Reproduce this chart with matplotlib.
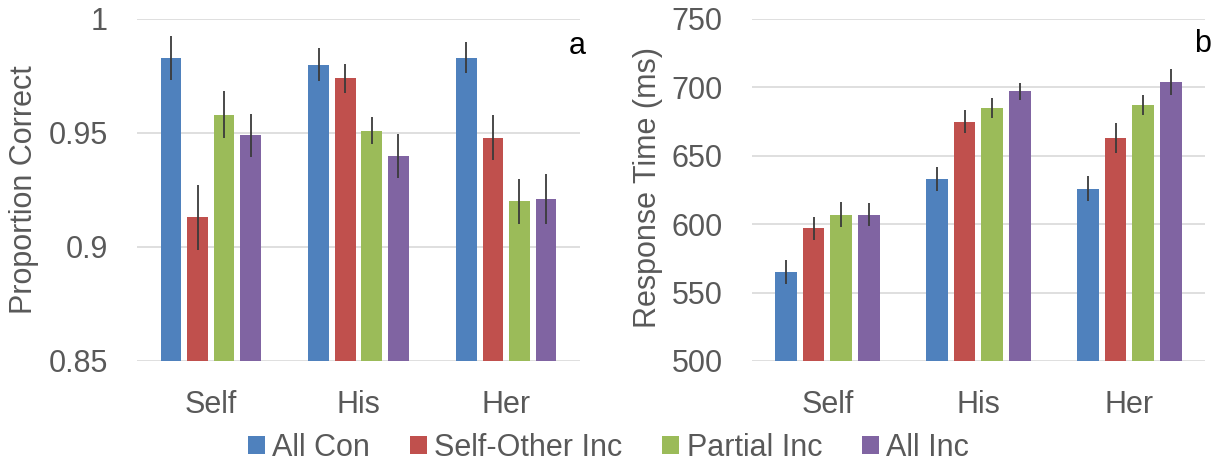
import numpy as np
import matplotlib
matplotlib.use("Agg")
from matplotlib import pyplot as plt
from matplotlib.patches import Patch

plt.rcParams['font.family'] = ['Liberation Sans', 'DejaVu Sans']

groups = ["Self", "His", "Her"]
conditions = ["All Con", "Self-Other Inc", "Partial Inc", "All Inc"]
colors = ["#4F81BD", "#C0504D", "#9BBB59", "#8064A2"]

# panel a: proportion correct (rows = condition, cols = group)
acc = [[0.983, 0.980, 0.983],
       [0.913, 0.974, 0.948],
       [0.958, 0.951, 0.920],
       [0.949, 0.940, 0.921]]
acc_err = [[0.0097, 0.0073, 0.0067],
           [0.0144, 0.0063, 0.0097],
           [0.0104, 0.0059, 0.0100],
           [0.0094, 0.0096, 0.0108]]

# panel b: response time (ms)
rt = [[565, 633, 626],
      [597, 675, 663],
      [607, 685, 687],
      [607, 697, 704]]
rt_err = [[8.7, 8.9, 9.0],
          [8.3, 8.2, 10.9],
          [9.0, 7.1, 7.2],
          [8.3, 6.2, 9.4]]

grey = "#595959"
fs = 22

fig = plt.figure(figsize=(12.17, 4.65), dpi=100)
ax1 = fig.add_axes([0.1126, 0.2237, 0.364, 0.7355])
ax2 = fig.add_axes([0.6179, 0.2237, 0.3722, 0.7355])


def draw(ax, vals, errs, ylim, yticks, ylabels, width, step, pad):
    x = np.arange(len(groups))
    for i in range(len(conditions)):
        off = (i - 1.5) * step
        ax.bar(x + off, vals[i], width, color=colors[i], zorder=2)
        ax.errorbar(x + off, vals[i], yerr=errs[i], fmt='none',
                    ecolor="#3a3a3a", elinewidth=1.3, capsize=0, zorder=3)
    ax.set_xlim(-0.5, 2.5)
    ax.set_ylim(*ylim)
    ax.set_yticks(yticks)
    ax.set_yticklabels(ylabels)
    ax.set_xticks(x)
    ax.set_xticklabels(groups)
    ax.grid(axis='y', color="#D9D9D9", lw=1.2, zorder=0)
    for s in ax.spines.values():
        s.set_visible(False)
    ax.tick_params(axis='both', length=0, labelsize=fs, labelcolor=grey)
    ax.tick_params(axis='y', pad=pad)
    ax.tick_params(axis='x', pad=21)


draw(ax1, acc, acc_err, (0.85, 1.0), [0.85, 0.9, 0.95, 1.0],
     ["0.85", "0.9", "0.95", "1"], 0.14, 0.18, 21)
draw(ax2, rt, rt_err, (500, 750), [500, 550, 600, 650, 700, 750],
     ["500", "550", "600", "650", "700", "750"], 0.143, 0.183, 21)

fig.text(24 / 1217, 1 - 190 / 465, "Proportion Correct", rotation=90,
         ha='center', va='center', fontsize=fs, color=grey)
fig.text(648 / 1217, 1 - 188 / 465, "Response Time (ms)", rotation=90,
         ha='center', va='center', fontsize=fs, color=grey)
fig.text(577 / 1217, 1 - 46 / 465, "a", ha='center', va='center',
         fontsize=fs, color="black")
fig.text(1203 / 1217, 1 - 44 / 465, "b", ha='center', va='center',
         fontsize=fs, color="black")

handles = [Patch(facecolor=c, edgecolor='none') for c in colors]
leg = fig.legend(handles, conditions, loc='center', ncol=4, frameon=False,
                 bbox_to_anchor=(0.5, 1 - 448 / 465), fontsize=fs,
                 handlelength=0.55, handleheight=0.55, handletextpad=0.25,
                 columnspacing=1.3, borderaxespad=0)
for t in leg.get_texts():
    t.set_color(grey)

fig.savefig("out.png", dpi=100)
